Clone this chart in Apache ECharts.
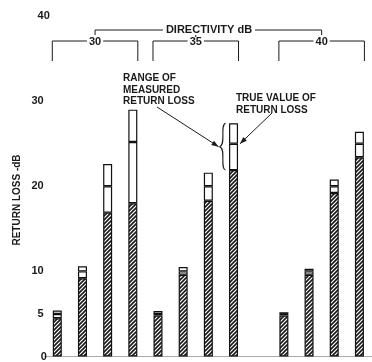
<!DOCTYPE html>
<html><head><meta charset="utf-8">
<script src="https://cdn.jsdelivr.net/npm/echarts@6/dist/echarts.min.js"></script>
<style>html,body{margin:0;padding:0;background:#fff}#c{width:372px;height:362px}</style>
</head><body><div id="c"></div>
<script>
// ---- data ----
const categories = ['30-5','30-10','30-20','30-25','35-5','35-10','35-20','35-25','','40-5','40-10','40-20','40-25'];
const hatchTop  = [4.5, 9.2, 16.9, 18.0, 4.8, 9.6, 18.3, 21.9, null, 4.8, 9.6, 19.2, 23.4];
const trueValue = [5.0, 10.0, 20.0, 25.2, 5.0, 10.0, 20.0, 25.0, null, 5.0, 10.0, 20.0, 25.0];
const rangeTop  = [5.4, 10.6, 22.6, 29.0, 5.35, 10.5, 21.6, 27.4, null, 5.2, 10.3, 20.8, 26.4];
const yTickLabels = [0, 5, 10, 20, 30, 40];
const directivityGroups = [
  {label: '30', first: 0, last: 3},
  {label: '35', first: 4, last: 7},
  {label: '40', first: 9, last: 12}
];
const annotatedBar = 7;

const FONT = '"Liberation Sans", Arial, sans-serif';
const INK = '#1a1a1a';

function hatchCanvas() {
  const c = document.createElement('canvas'); c.width = 4; c.height = 4;
  const g = c.getContext('2d');
  g.fillStyle = '#fff'; g.fillRect(0, 0, 4, 4);
  g.strokeStyle = '#1a1a1a'; g.lineWidth = 1.6;
  g.beginPath();
  g.moveTo(-1, 5); g.lineTo(5, -1);
  g.moveTo(-1, 1); g.lineTo(1, -1);
  g.moveTo(3, 5); g.lineTo(5, 3);
  g.stroke();
  return c;
}

const seg2 = trueValue.map((v, i) => v == null ? '-' : +(v - hatchTop[i]).toFixed(2));
const seg3 = rangeTop.map((v, i) => v == null ? '-' : +(v - trueValue[i]).toFixed(2));
const seg1 = hatchTop.map(v => v == null ? '-' : v);

const chart = echarts.init(document.getElementById('c'), null, {renderer: 'canvas'});
const barStyle = {borderColor: '#111', borderWidth: 1.2};
chart.setOption({
  animation: false,
  grid: {left: 44.7, right: -5.8, top: 16, bottom: 0, containLabel: false},
  xAxis: {
    type: 'category', data: categories, boundaryGap: true,
    axisLine: {show: true, lineStyle: {color: '#aaa', width: 1}},
    axisTick: {show: false}, axisLabel: {show: false}, splitLine: {show: false}
  },
  yAxis: {
    type: 'value', min: 0, max: 40, interval: 5,
    axisLine: {show: false}, axisTick: {show: false}, splitLine: {show: false},
    axisLabel: {
      margin: 1, color: INK, fontFamily: FONT, fontWeight: 'bold', fontSize: 11,
      alignMinLabel: 'center', alignMaxLabel: 'center',
      formatter: v => yTickLabels.includes(v) ? String(v) : ''
    }
  },
  series: [
    {type: 'bar', stack: 'r', data: seg1, barWidth: 9,
     itemStyle: Object.assign({color: {image: hatchCanvas(), repeat: 'repeat'}}, barStyle)},
    {type: 'bar', stack: 'r', data: seg2, barWidth: 9,
     itemStyle: Object.assign({color: '#fff'}, barStyle)},
    {type: 'bar', stack: 'r', data: seg3, barWidth: 9,
     itemStyle: Object.assign({color: '#fff'}, barStyle)}
  ]
});

// ---- annotations ----
const px = (i, v) => chart.convertToPixel({gridIndex: 0}, [i, v]);
const half = 5;
const g = [];
const line = (x1, y1, x2, y2, w) => g.push({type: 'line', shape: {x1, y1, x2, y2}, style: {stroke: INK, lineWidth: w || 1}, silent: true});
const text = (x, y, s, opts) => g.push({type: 'text', x, y, style: Object.assign({text: s, fill: INK, font: 'bold 11px ' + FONT, align: 'center', verticalAlign: 'middle'}, opts || {}), silent: true});
function arrow(x1, y1, x2, y2) {
  line(x1, y1, x2, y2, 1);
  const a = Math.atan2(y2 - y1, x2 - x1), L = 7, W = 2.6;
  const bx = x2 - L * Math.cos(a), by = y2 - L * Math.sin(a);
  const nx = -Math.sin(a), ny = Math.cos(a);
  g.push({type: 'polygon', shape: {points: [[x2, y2], [bx + nx * W, by + ny * W], [bx - nx * W, by - ny * W]]}, style: {fill: INK}, silent: true});
}

const centers = [];
directivityGroups.forEach(gr => {
  const xl = px(gr.first, 0)[0] - half, xr = px(gr.last, 0)[0] + half;
  const cx = (px(gr.first, 0)[0] + px(gr.last, 0)[0]) / 2;
  centers.push(cx);
  line(xl, 41, xr, 41); line(xl, 41, xl, 61); line(xr, 41, xr, 61);
  text(cx, 41.5, gr.label, {backgroundColor: '#fff', padding: [0, 2]});
});
// top bracket
line(centers[0], 30, centers[2], 30);
line(centers[0], 30, centers[0], 35);
line(centers[2], 30, centers[2], 35);
line(centers[1], 34, centers[1], 37);
text(209, 29.5, 'DIRECTIVITY dB', {backgroundColor: '#fff', padding: [0, 3]});

// annotated bar: brace + arrows
const bx = px(annotatedBar, 0)[0];
const yTop = px(annotatedBar, rangeTop[annotatedBar])[1];
const yBot = px(annotatedBar, hatchTop[annotatedBar])[1];
const yMid = (yTop + yBot) / 2;
const braceX = bx - 11;
g.push({type: 'bezierCurve', shape: {x1: braceX + 3, y1: yTop, cpx1: braceX - 3, cpy1: yTop + 2, cpx2: braceX + 4, cpy2: yMid - 2, x2: braceX - 3, y2: yMid}, style: {stroke: INK, lineWidth: 1.1, fill: null}, silent: true});
g.push({type: 'bezierCurve', shape: {x1: braceX + 3, y1: yBot, cpx1: braceX - 3, cpy1: yBot - 2, cpx2: braceX + 4, cpy2: yMid + 2, x2: braceX - 3, y2: yMid}, style: {stroke: INK, lineWidth: 1.1, fill: null}, silent: true});
arrow(157, 107, braceX - 4, yMid);
const yTrue = px(annotatedBar, trueValue[annotatedBar])[1];
arrow(272, 113, bx + half + 1.5, yTrue);

text(123, 90, 'RANGE OF\nMEASURED\nRETURN LOSS', {align: 'left', verticalAlign: 'middle', font: 'bold 10px ' + FONT, lineHeight: 11.5});
text(236, 104, 'TRUE VALUE OF\nRETURN LOSS', {align: 'left', verticalAlign: 'middle', font: 'bold 10px ' + FONT, lineHeight: 11.5});

// y-axis name
g.push({type: 'text', x: 17, y: 200, rotation: Math.PI / 2,
  style: {text: 'RETURN LOSS -dB', fill: INK, font: 'bold 10px ' + FONT, align: 'center', verticalAlign: 'middle'}, silent: true});

chart.setOption({graphic: {elements: g}});
</script>
</body></html>
